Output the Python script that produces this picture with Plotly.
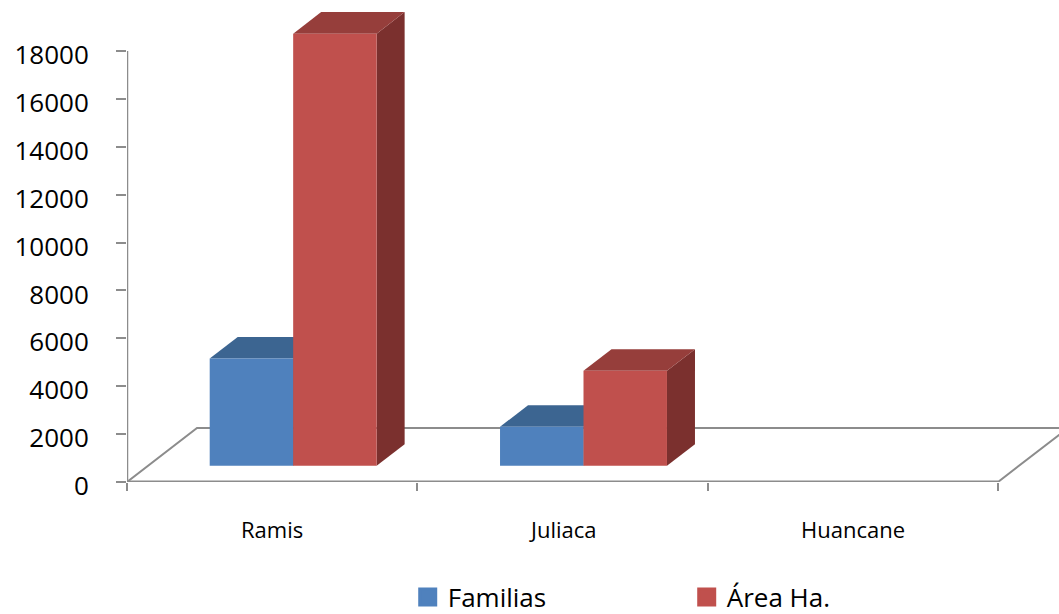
import plotly.graph_objects as go

categories = ["Ramis", "Juliaca", "Huancane"]
series_names = ["Familias", "Área Ha."]
familias = [4480, 1630, 0]
area_ha = [18050, 3970, 0]
y_ticks = [0, 2000, 4000, 6000, 8000, 10000, 12000, 14000, 16000, 18000]

front_colors = ["#4F81BD", "#C0504D"]
top_colors = ["#3C6591", "#963E3B"]
side_colors = ["#335579", "#7B302E"]

FONT = "Open Sans"

# oblique projection parameters (data units)
DX = 0.2411      # full floor depth, x direction (category units)
DY = 2256        # full floor depth, y direction (value units)
F0, F1 = 0.30, 0.70   # depth fraction of bar front / back
BW = 0.2875      # bar width in category units

fig = go.Figure()

# floor
n = len(categories)
fx = [-0.5, n - 0.5, n - 0.5 + DX, -0.5 + DX, -0.5]
fy = [0, 0, DY, DY, 0]
fig.add_trace(go.Scatter(x=fx, y=fy, mode="lines", line=dict(color="#8C8C8C", width=2),
                         hoverinfo="skip", showlegend=False))
# front edge of floor (category axis)
fig.add_trace(go.Scatter(x=[-0.5, n - 0.5], y=[0, 0], mode="lines",
                         line=dict(color="#8C8C8C", width=3), hoverinfo="skip", showlegend=False))
# value axis line
fig.add_trace(go.Scatter(x=[-0.5, -0.5], y=[0, y_ticks[-1]], mode="lines",
                         line=dict(color="#8C8C8C", width=2.5), hoverinfo="skip", showlegend=False))

series_vals = [familias, area_ha]
b0 = F0 * DY
d = (F1 - F0) * DX
dd = (F1 - F0) * DY
for ci, cat in enumerate(categories):
    for si, vals in enumerate(series_vals):
        v = vals[ci]
        if v <= 0:
            continue
        xl = ci + (si - 1) * BW + F0 * DX
        xr = xl + BW
        top = b0 + v
        # side face
        fig.add_trace(go.Scatter(x=[xr, xr + d, xr + d, xr, xr], y=[b0, b0 + dd, top + dd, top, b0],
                                 mode="lines", line=dict(width=0), fill="toself",
                                 fillcolor=side_colors[si], hoverinfo="skip", showlegend=False))
        # top face
        fig.add_trace(go.Scatter(x=[xl, xr, xr + d, xl + d, xl], y=[top, top, top + dd, top + dd, top],
                                 mode="lines", line=dict(width=0), fill="toself",
                                 fillcolor=top_colors[si], hoverinfo="skip", showlegend=False))
        # front face
        fig.add_trace(go.Scatter(x=[xl, xr, xr, xl, xl], y=[b0, b0, top, top, b0],
                                 mode="lines", line=dict(width=0), fill="toself",
                                 fillcolor=front_colors[si], name=series_names[si],
                                 hovertext=f"{cat}: {v}", hoverinfo="text", showlegend=False))

# legend entries
for si, name in enumerate(series_names):
    fig.add_trace(go.Scatter(x=[None], y=[None], mode="markers", name=name,
                             marker=dict(symbol="square", size=16, color=front_colors[si],
                                         line=dict(color=front_colors[si], width=3)),
                             showlegend=True))

# category labels
for ci, cat in enumerate(categories):
    fig.add_annotation(x=ci, y=-0.0985, xref="x", yref="paper", text=cat, showarrow=False,
                       font=dict(family=FONT, size=22, color="#000000"), yanchor="middle")

fig.update_layout(
    width=1059, height=614,
    margin=dict(l=127, r=0, t=5, b=132, autoexpand=False),
    paper_bgcolor="white", plot_bgcolor="white",
    font=dict(family=FONT, color="#000000"),
    xaxis=dict(range=[-0.5, n - 0.5 + 61 / 290.33], tickvals=[-0.5, 0.5, 1.5, 2.5],
               ticktext=["", "", "", ""], ticks="outside", ticklen=8, tickwidth=2,
               tickcolor="#8C8C8C", showline=False, showgrid=False, zeroline=False,
               automargin=False),
    yaxis=dict(range=[0, 19925], tickvals=y_ticks, ticktext=[str(t) for t in y_ticks],
               ticks="outside", ticklen=10, tickwidth=2,
               tickcolor="#8C8C8C", showline=False, showgrid=False, zeroline=False,
               tickfont=dict(family=FONT, size=26, color="#000000"), ticklabelstandoff=22,
               ticklabelshift=4, automargin=False),
    legend=dict(orientation="h", x=0.385, y=1 - 597 / 614, xref="container", yref="container",
                xanchor="left", yanchor="middle",
                font=dict(family=FONT, size=26, color="#000000"),
                entrywidth=234, entrywidthmode="pixels", itemsizing="trace"),
    showlegend=True,
)

fig.write_html("out.html", config={"displayModeBar": False},
               post_script="document.body.style.margin='0px';document.body.style.overflow='hidden';")
